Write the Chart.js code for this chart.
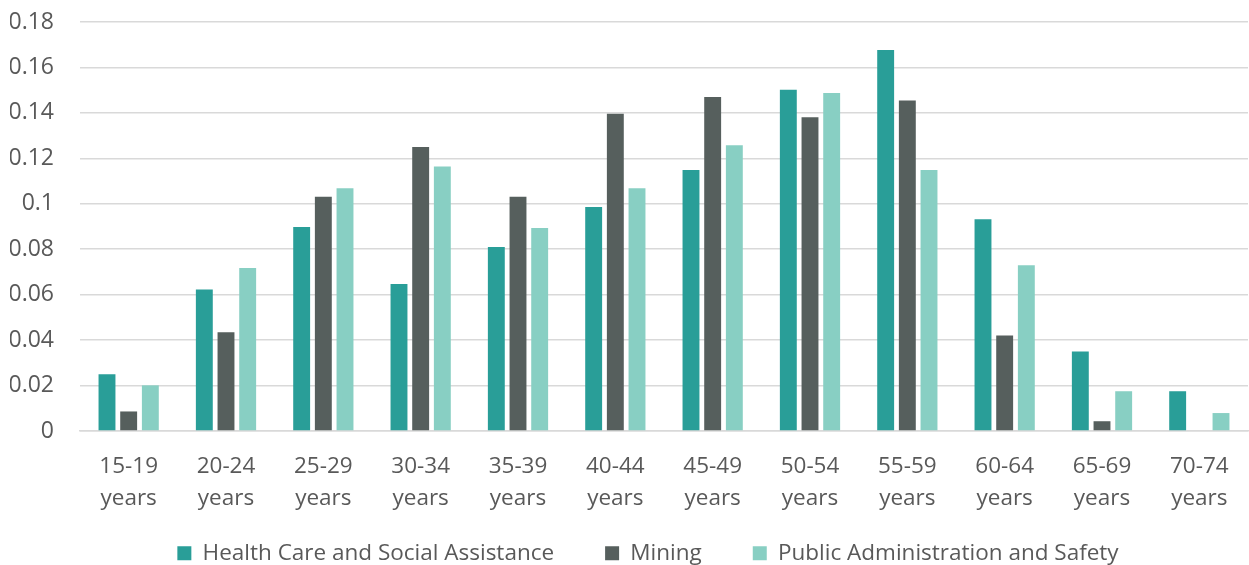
<!DOCTYPE html>
<html>
<head>
<meta charset="utf-8">
<script src="https://cdn.jsdelivr.net/npm/chart.js@4/dist/chart.umd.min.js"></script>
<style>
html,body{margin:0;padding:0;background:#fff;}
#wrap{width:1249px;height:565px;position:relative;}
</style>
</head>
<body>
<div id="wrap"><canvas id="c"></canvas></div>
<script>
const categories = [
  ["15-19","years"],["20-24","years"],["25-29","years"],["30-34","years"],
  ["35-39","years"],["40-44","years"],["45-49","years"],["50-54","years"],
  ["55-59","years"],["60-64","years"],["65-69","years"],["70-74","years"]
];
const healthCare = [0.0250,0.0623,0.0898,0.0647,0.0810,0.0986,0.1149,0.1502,0.1677,0.0932,0.0350,0.0175];
const mining     = [0.0086,0.0435,0.1031,0.1250,0.1031,0.1396,0.1470,0.1381,0.1455,0.0420,0.0043,0];
const publicAdmin= [0.0201,0.0717,0.1068,0.1164,0.0893,0.1068,0.1258,0.1488,0.1149,0.0730,0.0175,0.0079];
const seriesNames = ["Health Care and Social Assistance","Mining","Public Administration and Safety"];
const yTicks = [0,0.02,0.04,0.06,0.08,0.1,0.12,0.14,0.16,0.18];
const yTickLabels = ["0","0.02","0.04","0.06","0.08","0.1","0.12","0.14","0.16","0.18"];

const colors = ["#299E98","#565F5D","#88CFC3"];
const fontFamily = "'Open Sans', 'Noto Sans', sans-serif";

// Legend: wide horizontal spacing between items, compact vertical footprint
const LEGEND_PAD = 51;
const LEGEND_HEIGHT = 51;
const LEGEND_SHIFT_Y = -23;
const LEGEND_SHIFT_X = 19;
const legendSpacing = {
  id: 'legendSpacing',
  beforeLayout(chart) {
    const lg = chart.legend;
    if (!lg || lg._patched) return;
    lg._patched = true;
    const fit = lg.fit.bind(lg);
    lg.fit = function () { fit(); this.height = LEGEND_HEIGHT; };
    const drawInner = lg._draw.bind(lg);
    lg._draw = function () {
      const t = this.top, l = this.left, r = this.right;
      this.top = t + LEGEND_SHIFT_Y;
      this.left = l + LEGEND_SHIFT_X;
      this.right = r + LEGEND_SHIFT_X;
      drawInner();
      this.top = t; this.left = l; this.right = r;
    };
  }
};

new Chart(document.getElementById('c'), {
  type: 'bar',
  data: {
    labels: categories,
    datasets: [healthCare, mining, publicAdmin].map((d,i)=>({
      label: seriesNames[i],
      data: d,
      backgroundColor: colors[i],
      borderWidth: 0,
      categoryPercentage: 0.668,
      barPercentage: 0.78
    }))
  },
  plugins: [legendSpacing],
  options: {
    responsive: true,
    maintainAspectRatio: false,
    animation: false,
    layout: { padding: { left: 10, right: 1, top: 22, bottom: 0 } },
    plugins: {
      tooltip: { enabled: false },
      legend: {
        position: 'bottom',
        labels: {
          font: { family: fontFamily, size: 22.5 },
          color: '#595959',
          boxWidth: 14,
          boxHeight: 14,
          padding: LEGEND_PAD
        }
      }
    },
    scales: {
      x: {
        grid: { display: false, drawTicks: false },
        border: { display: true, color: '#d9d9d9', width: 1.5 },
        ticks: {
          font: { family: fontFamily, size: 22.5, lineHeight: 1.44 },
          color: '#595959',
          padding: 19,
          maxRotation: 0,
          autoSkip: false
        },
        afterFit: (scale) => { scale.height = 83; scale.paddingLeft = 0; scale.paddingRight = 0; }
      },
      y: {
        min: 0,
        max: 0.18,
        afterBuildTicks: (axis) => { axis.ticks = yTicks.map(v => ({ value: v })); },
        grid: { color: '#d9d9d9', lineWidth: 1.5, drawTicks: false },
        border: { display: false },
        ticks: {
          font: { family: fontFamily, size: 23 },
          color: '#595959',
          padding: 26,
          callback: (v, i) => yTickLabels[i]
        },
        afterFit: (scale) => { scale.width = 70; scale.paddingTop = 0; scale.paddingBottom = 0; }
      }
    }
  }
});
</script>
</body>
</html>
